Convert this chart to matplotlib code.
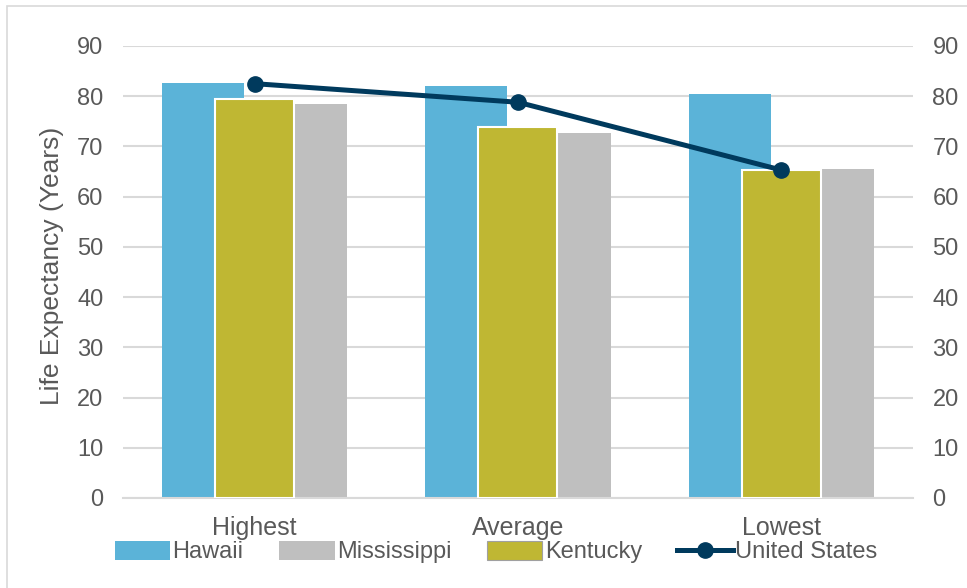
"""Life expectancy by state vs United States: highest / average / lowest."""
import matplotlib.pyplot as plt
from matplotlib.lines import Line2D
from matplotlib.patches import Patch, Rectangle

plt.rcParams["font.family"] = ["Liberation Sans", "DejaVu Sans"]

CATEGORIES = ["Highest", "Average", "Lowest"]
HAWAII = [82.6, 82.0, 80.4]
MISSISSIPPI = [78.4, 72.7, 65.6]
KENTUCKY = [79.4, 73.9, 65.4]
UNITED_STATES = [82.5, 78.8, 65.3]
Y_TICKS = list(range(0, 100, 10))

COLORS = {
    "Hawaii": "#5BB3D8",
    "Mississippi": "#BFBFBF",
    "Kentucky": "#BFB733",
    "United States": "#003A5D",
}
TEXT = "#595959"
GRID = "#D9D9D9"
FS = 17


def main():
    fig = plt.figure(figsize=(9.67, 5.88), dpi=100)
    ax = fig.add_axes([123 / 967, 1 - 498 / 588, 790 / 967, 452 / 588])
    ax2 = ax.twinx()

    x = list(range(len(CATEGORIES)))
    w = 0.311
    off = 0.196
    ax.bar([v - off for v in x], HAWAII, width=w, color=COLORS["Hawaii"], zorder=2)
    ax.bar([v + off for v in x], MISSISSIPPI, width=w, color=COLORS["Mississippi"],
           zorder=2)
    ax2.bar(x, KENTUCKY, width=0.30, color=COLORS["Kentucky"], edgecolor="white",
            linewidth=1.5, zorder=2)
    ax2.plot(x, UNITED_STATES, color=COLORS["United States"], linewidth=3.6,
             marker="o", markersize=11, zorder=3)

    for a in (ax, ax2):
        a.set_ylim(0, 90)
        a.set_yticks(Y_TICKS)
        a.set_xlim(-0.5, 2.5)
        a.tick_params(axis="y", length=0, pad=14, labelsize=FS, colors=TEXT)
        for s in a.spines.values():
            s.set_visible(False)

    ax.set_xticks(x)
    ax.set_xticklabels(CATEGORIES)
    ax.tick_params(axis="x", length=0, pad=13, labelsize=FS + 1, colors=TEXT)
    ax.yaxis.grid(True, color=GRID, linewidth=1.5, zorder=0)
    ax.set_axisbelow(True)
    ax.spines["bottom"].set_visible(True)
    ax.spines["bottom"].set_color(GRID)
    ax.spines["bottom"].set_linewidth(1.5)
    ax.set_ylabel("Life Expectancy (Years)", fontsize=FS + 2, color=TEXT)
    ax.yaxis.set_label_coords((64 - 123) / 790, 0.513)

    handles = [
        Patch(facecolor=COLORS["Hawaii"]),
        Patch(facecolor=COLORS["Mississippi"]),
        Patch(facecolor=COLORS["Kentucky"], edgecolor="#A0A0A0", linewidth=0.8),
        Line2D([], [], color=COLORS["United States"], linewidth=3.6, marker="o",
               markersize=11),
    ]
    labels = ["Hawaii", "Mississippi", "Kentucky", "United States"]
    fig.legend(handles, labels, loc="center", bbox_to_anchor=(0.513, 0.061), ncol=4,
               frameon=False, fontsize=FS, labelcolor=TEXT, handlelength=2.35,
               handleheight=0.85, handletextpad=0.1, columnspacing=1.5)

    fig.patches.append(Rectangle((7 / 967, -0.1), 1.2, 1 - 6 / 588 + 0.1,
                                 transform=fig.transFigure, fill=False,
                                 edgecolor=GRID, linewidth=1.2))

    fig.savefig("out.png", dpi=100)
    plt.close(fig)


if __name__ == "__main__":
    main()
